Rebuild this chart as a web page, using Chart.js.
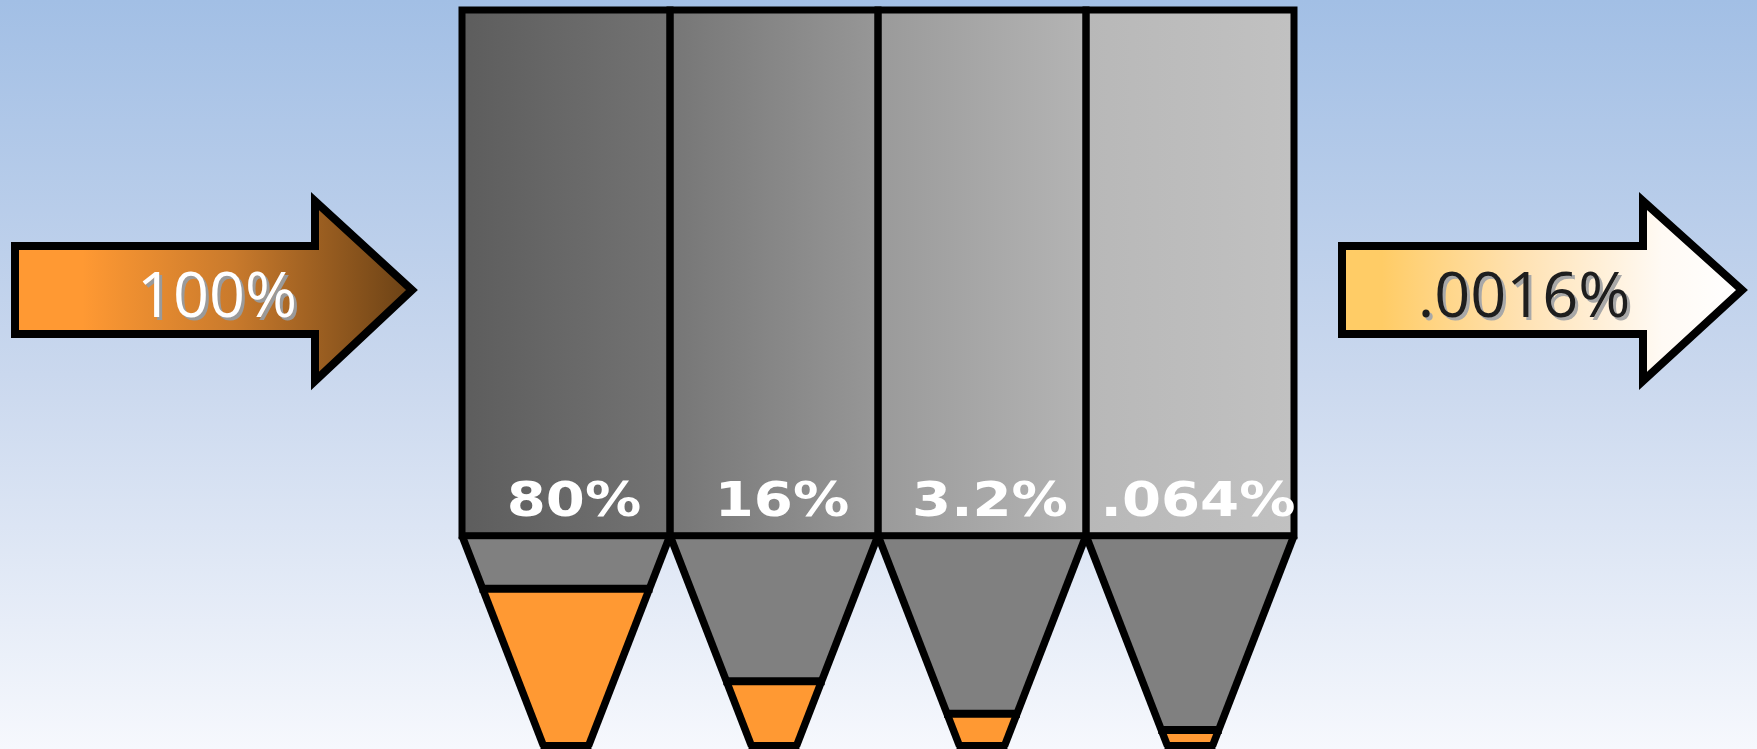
<!DOCTYPE html>
<html>
<head>
<meta charset="utf-8">
<script src="https://cdn.jsdelivr.net/npm/chart.js@4"></script>
<style>
  html, body { margin: 0; padding: 0; overflow: hidden; background: #ffffff; }
  #wrap { width: 1757px; height: 749px; }
</style>
</head>
<body>
<div id="wrap"><canvas id="c" width="1757" height="749"></canvas></div>
<script>
// Share of the material that passes each stage, in percent
const stageValues = [80, 16, 3.2, 0.064];
const inputValue = 100;
const outputValue = 0.0016;
const stageLabels = stageValues.map(pct);

// Column shading, left to right inside each stage
const columnColors = [
  ['#5d5d5d', '#737373'],
  ['#767676', '#979797'],
  ['#9a9a9a', '#b4b4b4'],
  ['#b8b8b8', '#c1c1c1']
];

// Vertical units: the funnel spans 0..FUNNEL_TOP, the column sits above it
const FUNNEL_TOP = 100;
const COLUMN_TOP = 350;
const NECK = 0.216;            // funnel outlet width relative to its mouth

function pct(v) { return String(v).replace(/^0\./, '.') + '%'; }

// Depth of the orange charge in a funnel; sublinear so tiny shares stay visible
function fillLevel(v) { return 7 + 3.93 * Math.pow(v, 0.65); }

function drawArrow(ctx, a, fill) {
  ctx.beginPath();
  ctx.moveTo(a.x0, a.shaftTop);
  ctx.lineTo(a.neck, a.shaftTop);
  ctx.lineTo(a.neck, a.headTop);
  ctx.lineTo(a.tip, a.mid);
  ctx.lineTo(a.neck, a.headBot);
  ctx.lineTo(a.neck, a.shaftBot);
  ctx.lineTo(a.x0, a.shaftBot);
  ctx.closePath();
  ctx.fillStyle = fill;
  ctx.fill();
  ctx.lineWidth = 8;
  ctx.lineJoin = 'miter';
  ctx.strokeStyle = '#000000';
  ctx.stroke();
}

function arrowText(ctx, text, x, y, color, shadow) {
  ctx.save();
  ctx.font = '63px "Open Sans"';
  ctx.textAlign = 'center';
  ctx.textBaseline = 'alphabetic';
  ctx.fillStyle = shadow;
  ctx.fillText(text, x + 3, y + 3);
  ctx.fillStyle = color;
  ctx.fillText(text, x, y);
  ctx.restore();
}

const hopperPlugin = {
  id: 'hoppers',
  beforeDraw(chart) {
    const { ctx, width, height } = chart;
    const g = ctx.createLinearGradient(0, 0, 0, height);
    g.addColorStop(0, '#a2bfe5');
    g.addColorStop(0.5, '#cad8ee');
    g.addColorStop(1, '#f6f8fd');
    ctx.save();
    ctx.fillStyle = g;
    ctx.fillRect(0, 0, width, height);
    ctx.restore();
  },
  afterDatasetsDraw(chart) {
    const ctx = chart.ctx;
    const y = chart.scales.y;
    const bars = chart.getDatasetMeta(0).data;
    const yTop = y.getPixelForValue(FUNNEL_TOP);
    const yBot = y.getPixelForValue(0);

    ctx.save();
    ctx.lineJoin = 'miter';
    ctx.strokeStyle = '#000000';

    // funnels under each column
    bars.forEach((bar, i) => {
      const cx = bar.x, w = bar.width;
      const half = u => w / 2 * (NECK + (1 - NECK) * u / FUNNEL_TOP);
      const lvl = fillLevel(stageValues[i]);
      const yl = y.getPixelForValue(lvl);

      ctx.beginPath();
      ctx.moveTo(cx - half(FUNNEL_TOP), yTop);
      ctx.lineTo(cx + half(FUNNEL_TOP), yTop);
      ctx.lineTo(cx + half(0), yBot);
      ctx.lineTo(cx - half(0), yBot);
      ctx.closePath();
      ctx.fillStyle = '#808080';
      ctx.fill();

      ctx.beginPath();
      ctx.moveTo(cx - half(lvl), yl);
      ctx.lineTo(cx + half(lvl), yl);
      ctx.lineTo(cx + half(0), yBot);
      ctx.lineTo(cx - half(0), yBot);
      ctx.closePath();
      ctx.fillStyle = '#ff9933';
      ctx.fill();

      ctx.lineWidth = 8;
      ctx.beginPath();
      ctx.moveTo(cx - half(lvl) - 3, yl);
      ctx.lineTo(cx + half(lvl) + 3, yl);
      ctx.stroke();

      ctx.lineWidth = 7.5;
      ctx.beginPath();
      ctx.moveTo(cx - half(FUNNEL_TOP), yTop);
      ctx.lineTo(cx - half(0), yBot);
      ctx.stroke();
      ctx.beginPath();
      ctx.moveTo(cx + half(FUNNEL_TOP), yTop);
      ctx.lineTo(cx + half(0), yBot);
      ctx.stroke();
      ctx.lineWidth = 8;
      ctx.beginPath();
      ctx.moveTo(cx - half(0) - 3, yBot);
      ctx.lineTo(cx + half(0) + 3, yBot);
      ctx.stroke();
    });

    // column outlines
    ctx.lineWidth = 7;
    bars.forEach(bar => {
      ctx.strokeRect(bar.x - bar.width / 2, bar.y, bar.width, bar.base - bar.y);
    });

    // stage shares
    ctx.font = 'bold 48px "DejaVu Sans"';
    ctx.textAlign = 'center';
    ctx.textBaseline = 'alphabetic';
    ctx.fillStyle = '#ffffff';
    bars.forEach((bar, i) => {
      ctx.save();
      ctx.translate(bar.x + 8, yTop - 20);
      ctx.scale(1.17, 1);
      ctx.fillText(stageLabels[i], 0, 0);
      ctx.restore();
    });

    // feed and output arrows
    const inArrow = { x0: 15, neck: 315, tip: 412, shaftTop: 246, shaftBot: 334, headTop: 201, headBot: 381, mid: 290 };
    const outArrow = { x0: 1342, neck: 1643, tip: 1742, shaftTop: 246, shaftBot: 334, headTop: 201, headBot: 381, mid: 290 };

    const gIn = ctx.createLinearGradient(inArrow.x0, 0, inArrow.tip, 0);
    gIn.addColorStop(0, '#ff9933');
    gIn.addColorStop(0.17, '#ff9933');
    gIn.addColorStop(0.55, '#c97a2c');
    gIn.addColorStop(1, '#6a4115');
    drawArrow(ctx, inArrow, gIn);

    const gOut = ctx.createLinearGradient(outArrow.x0, 0, outArrow.tip, 0);
    gOut.addColorStop(0, '#ffcc66');
    gOut.addColorStop(0.1, '#ffcc66');
    gOut.addColorStop(0.45, '#ffe2b3');
    gOut.addColorStop(0.8, '#fffaf4');
    gOut.addColorStop(1, '#ffffff');
    drawArrow(ctx, outArrow, gOut);

    arrowText(ctx, pct(inputValue), 217, 317, '#ffffff', '#9a9a9a');
    arrowText(ctx, pct(outputValue), 1524, 317, '#1e1e1e', '#a8a8a8');

    ctx.restore();
  }
};

function columnFill(c) {
  const chart = c.chart;
  const colors = columnColors[c.dataIndex] || columnColors[0];
  const area = chart.chartArea;
  const xs = chart.scales.x;
  if (!area || !xs) return colors[0];
  const cx = xs.getPixelForValue(c.dataIndex);
  const half = (area.right - area.left) / stageValues.length / 2;
  const g = chart.ctx.createLinearGradient(cx - half, 0, cx + half, 0);
  g.addColorStop(0, colors[0]);
  g.addColorStop(1, colors[1]);
  return g;
}

function build() {
  new Chart(document.getElementById('c'), {
    type: 'bar',
    data: {
      labels: stageLabels,
      datasets: [{
        data: stageValues.map(() => [FUNNEL_TOP, COLUMN_TOP]),
        backgroundColor: columnFill,
        borderWidth: 0,
        categoryPercentage: 1,
        barPercentage: 1
      }]
    },
    options: {
      responsive: false,
      animation: false,
      events: [],
      layout: { padding: { left: 462, right: 463, top: 10, bottom: 3 } },
      plugins: { legend: { display: false }, tooltip: { enabled: false }, title: { display: false } },
      scales: {
        x: { display: false },
        y: { display: false, min: 0, max: COLUMN_TOP }
      }
    },
    plugins: [hopperPlugin]
  });
}

Promise.all([
  document.fonts.load('63px "Open Sans"'),
  document.fonts.load('bold 48px "DejaVu Sans"')
]).then(build, build);
</script>
</body>
</html>
